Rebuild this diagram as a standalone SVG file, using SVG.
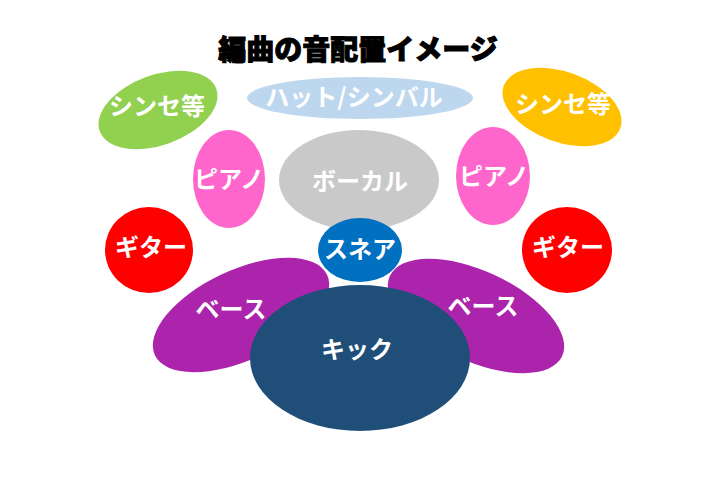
<svg xmlns="http://www.w3.org/2000/svg" width="720" height="480" viewBox="0 0 720 480">
<style>
.lbl{font-family:"Noto Sans CJK JP","Noto Sans",sans-serif;font-weight:700;font-size:24px;fill:#fff;text-anchor:middle}
.title{font-family:"Noto Sans CJK JP","Noto Sans",sans-serif;font-weight:900;font-size:28px;fill:#000;stroke:#000;stroke-width:1;text-anchor:middle}
</style>
<rect width="720" height="480" fill="#fff"/>
<g id="title"><text class="title" x="358" y="60">編曲の音配置イメージ</text></g>
<g id="hat"><ellipse cx="360" cy="98" rx="113" ry="21" fill="#BDD7EE"/><text class="lbl" x="354" y="106">ハット/シンバル</text></g>
<g id="synth-left"><ellipse cx="158" cy="110" rx="62" ry="35" transform="rotate(-20 158 110)" fill="#92D050"/><text class="lbl" x="157" y="115">シンセ等</text></g>
<g id="synth-right"><ellipse cx="562" cy="107" rx="62" ry="35" transform="rotate(20 562 107)" fill="#FFC000"/><text class="lbl" x="563" y="113">シンセ等</text></g>
<g id="piano-left"><ellipse cx="229" cy="179" rx="36" ry="49" fill="#FF66CC"/><text class="lbl" x="229" y="188">ピアノ</text></g>
<g id="vocal"><ellipse cx="359" cy="180" rx="80" ry="50" fill="#C9C9C9"/><text class="lbl" x="360" y="190">ボーカル</text></g>
<g id="piano-right"><ellipse cx="493" cy="176" rx="37" ry="49" fill="#FF66CC"/><text class="lbl" x="494" y="185">ピアノ</text></g>
<g id="guitar-left"><ellipse cx="149" cy="250" rx="44" ry="43" fill="#FF0000"/><text class="lbl" x="151" y="256">ギター</text></g>
<g id="guitar-right"><ellipse cx="567" cy="250" rx="45" ry="43" fill="#FF0000"/><text class="lbl" x="568" y="256">ギター</text></g>
<g id="snare"><ellipse cx="360" cy="250" rx="42" ry="32" fill="#0070C0"/><text class="lbl" x="360" y="258">スネア</text></g>
<g id="bass-left"><ellipse cx="241" cy="315" rx="95" ry="45" transform="rotate(-25 241 315)" fill="#AB24AB"/><text class="lbl" x="231" y="318">ベース</text></g>
<g id="bass-right"><ellipse cx="476" cy="316" rx="95" ry="45" transform="rotate(25 476 316)" fill="#AB24AB"/><text class="lbl" x="483" y="315">ベース</text></g>
<g id="kick"><ellipse cx="360" cy="358" rx="110" ry="73" fill="#1F4E79"/><text class="lbl" x="357" y="358">キック</text></g>
<g id="connectors"></g>
</svg>
